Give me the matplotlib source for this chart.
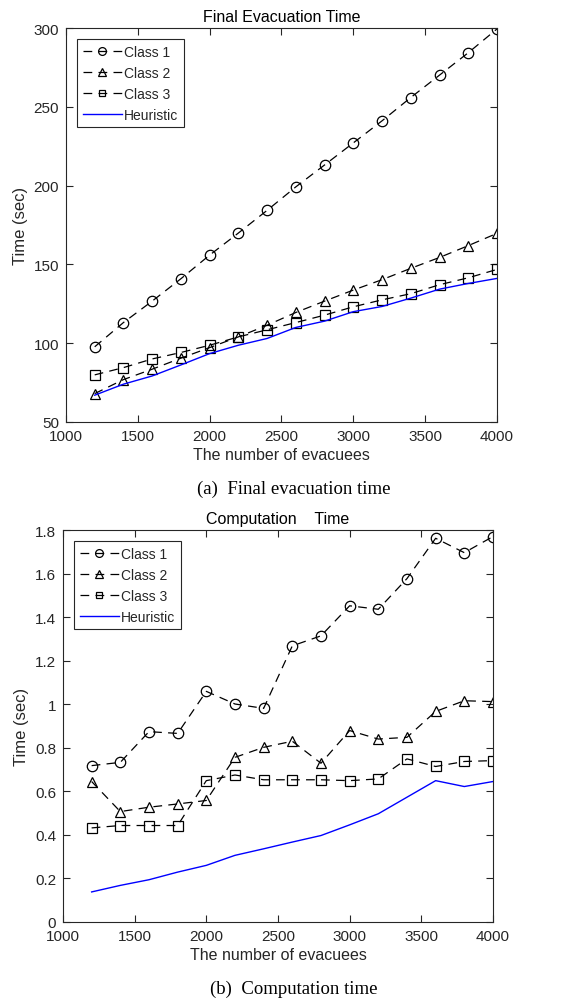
import matplotlib
matplotlib.use("Agg")
import matplotlib.pyplot as plt
from matplotlib.ticker import FuncFormatter

x = [1200, 1400, 1600, 1800, 2000, 2200, 2400, 2600, 2800, 3000, 3200, 3400, 3600, 3800, 4000]

final_class1 = [97.7, 113.1, 126.7, 140.9, 155.9, 169.9, 184.3, 199.2, 213.1, 227.1, 241.1, 255.9, 270.1, 284.3, 299.4]
final_class2 = [68.0, 76.9, 83.5, 90.5, 97.2, 104.0, 111.4, 119.5, 126.7, 133.7, 140.3, 147.5, 154.4, 161.9, 169.7]
final_class3 = [79.9, 84.5, 90.0, 94.1, 98.7, 104.0, 108.5, 113.1, 117.8, 123.1, 127.5, 131.4, 137.1, 141.5, 146.8]
final_heur = [67.0, 74.0, 79.2, 86.2, 93.4, 98.7, 103.0, 110.0, 114.0, 120.0, 123.3, 128.6, 134.3, 137.9, 141.1]

comp_class1 = [0.718, 0.733, 0.874, 0.866, 1.059, 1.001, 0.981, 1.268, 1.314, 1.452, 1.436, 1.577, 1.762, 1.696, 1.770]
comp_class2 = [0.645, 0.507, 0.527, 0.542, 0.558, 0.756, 0.802, 0.830, 0.729, 0.879, 0.840, 0.848, 0.967, 1.016, 1.012]
comp_class3 = [0.432, 0.443, 0.443, 0.443, 0.649, 0.675, 0.653, 0.653, 0.653, 0.649, 0.657, 0.749, 0.714, 0.737, 0.741]
comp_heur = [0.138, 0.168, 0.194, 0.229, 0.260, 0.306, 0.336, 0.367, 0.397, 0.446, 0.497, 0.573, 0.649, 0.622, 0.645]

labels = ["Class 1", "Class 2", "Class 3", "Heuristic"]
x_ticks = [1000, 1500, 2000, 2500, 3000, 3500, 4000]
top_yticks = [50, 100, 150, 200, 250, 300]
bot_yticks = [0, 0.2, 0.4, 0.6, 0.8, 1.0, 1.2, 1.4, 1.6, 1.8]

plt.rcParams['font.family'] = ['Liberation Sans', 'DejaVu Sans']
tick_col = '#262626'

fig = plt.figure(figsize=(5.88, 10.04), dpi=100)

def style_axes(ax):
    ax.tick_params(direction='in', top=True, right=True, length=5, width=0.8,
                   labelsize=11, colors=tick_col, pad=5)
    for s in ax.spines.values():
        s.set_color('#262626')
        s.set_linewidth(0.8)

def draw(ax, c1, c2, c3, h):
    kw = dict(color='black', linestyle=(0, (7, 5)), linewidth=0.9,
              markerfacecolor='none', markeredgecolor='black', markersize=7.5,
              markeredgewidth=0.9)
    ax.plot(x, c1, marker='o', label=labels[0], **kw)
    ax.plot(x, c2, marker='^', label=labels[1], **kw)
    ax.plot(x, c3, marker='s', label=labels[2], **dict(kw, markersize=6.5))
    ax.plot(x, h, color='#0000ff', linewidth=1.0, label=labels[3])
    leg = ax.legend(loc='upper left', fancybox=False, edgecolor='#262626',
                    fontsize=10, handlelength=2.8, handletextpad=0.2,
                    borderpad=0.4, labelspacing=0.5, borderaxespad=0.8,
                    framealpha=1, markerscale=0.75)
    leg.get_frame().set_linewidth(0.8)
    for t in leg.get_texts():
        t.set_color(tick_col)

ax1 = fig.add_axes([0.1122, 0.5787, 0.733, 0.3924])
draw(ax1, final_class1, final_class2, final_class3, final_heur)
ax1.set_xlim(1000, 4000)
ax1.set_ylim(50, 300)
ax1.set_xticks(x_ticks)
ax1.set_yticks(top_yticks)
style_axes(ax1)
ax1.set_title("Final Evacuation Time", fontsize=11.5, color='black', pad=5)
ax1.set_xlabel("The number of evacuees", fontsize=11.5, color=tick_col, labelpad=3)
ax1.set_ylabel("Time (sec)", fontsize=12, color=tick_col, labelpad=4)

ax2 = fig.add_axes([0.1071, 0.0807, 0.7313, 0.3904])
draw(ax2, comp_class1, comp_class2, comp_class3, comp_heur)
ax2.set_xlim(1000, 4000)
ax2.set_ylim(0, 1.8)
ax2.set_xticks(x_ticks)
ax2.set_yticks(bot_yticks)
ax2.yaxis.set_major_formatter(FuncFormatter(lambda v, p: ('%g' % round(v, 1))))
style_axes(ax2)
ax2.set_title("Computation    Time", fontsize=11.5, color='black', pad=5)
ax2.set_xlabel("The number of evacuees", fontsize=11.5, color=tick_col, labelpad=3)
ax2.set_ylabel("Time (sec)", fontsize=12, color=tick_col, labelpad=4)

fig.text(0.5, 1 - 489 / 1004, "(a)  Final evacuation time", ha='center', va='center',
         fontsize=13.5, family='Liberation Serif')
fig.text(0.5, 1 - 989 / 1004, "(b)  Computation time", ha='center', va='center',
         fontsize=13.5, family='Liberation Serif')

fig.savefig("out.png", dpi=100)
